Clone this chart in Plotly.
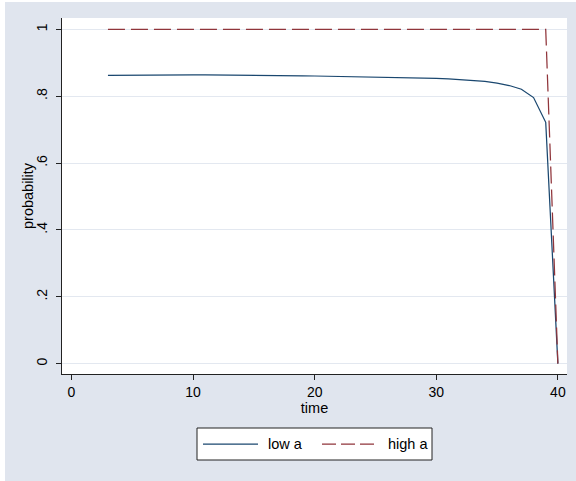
import plotly.graph_objects as go

# survival probability by time for two values of a
time = list(range(3, 41))
low_a = [0.862, 0.8625, 0.863, 0.8633, 0.8635, 0.8636, 0.8637, 0.8637, 0.8636, 0.8635,
         0.8633, 0.863, 0.8627, 0.8623, 0.8618, 0.8613, 0.8607, 0.8605, 0.860, 0.8595,
         0.859, 0.8585, 0.858, 0.8573, 0.8566, 0.8557, 0.8547, 0.8535, 0.852, 0.8502,
         0.848, 0.8445, 0.839, 0.832, 0.821, 0.796, 0.722, 0.0]
high_a = [1.0] * 37 + [0.0]

series_names = ["low a", "high a"]
series_colors = ["#1A476F", "#90353B"]

x_ticks = [0, 10, 20, 30, 40]
y_ticks = [0, 0.2, 0.4, 0.6, 0.8, 1.0]
y_tick_text = ["0", ".2", ".4", ".6", ".8", "1"]

BG = "#E0E5EE"
GRID = "#E3E8F0"
FONT = "Liberation Sans, Arial, sans-serif"
LW = 1.25

fig = go.Figure()
fig.add_trace(go.Scatter(x=time, y=low_a, mode="lines", name=series_names[0],
                         line=dict(color=series_colors[0], width=LW), showlegend=False))
fig.add_trace(go.Scatter(x=time, y=high_a, mode="lines", name=series_names[1],
                         line=dict(color=series_colors[1], width=LW, dash="17px,6px"),
                         showlegend=False))

# plot area geometry in pixels
W, H = 576, 481
L, R, T, B = 62, 9, 18, 107
pw, ph = W - L - R, H - T - B


def px_x(p):
    return (p - L) / pw


def px_y(p):
    return (H - B - p) / ph


shapes = [
    # white frame strips around the graph region
    dict(type="rect", xref="paper", yref="paper", x0=px_x(0), x1=px_x(5),
         y0=px_y(H), y1=px_y(0), fillcolor="white", line=dict(width=0), layer="below"),
    dict(type="rect", xref="paper", yref="paper", x0=px_x(0), x1=px_x(W),
         y0=px_y(2), y1=px_y(0), fillcolor="white", line=dict(width=0), layer="below"),
    # legend box
    dict(type="rect", xref="paper", yref="paper", x0=px_x(197), x1=px_x(432),
         y0=px_y(460), y1=px_y(428), fillcolor="white",
         line=dict(color="#222222", width=1)),
    dict(type="line", xref="paper", yref="paper", x0=px_x(203), x1=px_x(258),
         y0=px_y(444), y1=px_y(444), line=dict(color=series_colors[0], width=LW)),
    dict(type="line", xref="paper", yref="paper", x0=px_x(322), x1=px_x(377),
         y0=px_y(444), y1=px_y(444),
         line=dict(color=series_colors[1], width=LW, dash="14px,5px")),
]

annotations = [
    dict(text=series_names[0], xref="paper", yref="paper", x=px_x(266), y=px_y(444),
         xanchor="left", yanchor="middle", showarrow=False,
         font=dict(family=FONT, size=14.5, color="black")),
    dict(text=series_names[1], xref="paper", yref="paper", x=px_x(386), y=px_y(444),
         xanchor="left", yanchor="middle", showarrow=False,
         font=dict(family=FONT, size=14.5, color="black")),
    # y-axis title
    dict(text="probability", xref="paper", yref="paper", x=px_x(28), y=0.5,
         xanchor="center", yanchor="middle", textangle=-90, showarrow=False,
         font=dict(family=FONT, size=14.5, color="black")),
]

fig.update_layout(
    width=W, height=H,
    margin=dict(l=L, r=R, t=T, b=B, pad=0),
    paper_bgcolor=BG, plot_bgcolor="white",
    font=dict(family=FONT, size=14, color="black"),
    shapes=shapes, annotations=annotations,
    showlegend=False,
)
fig.update_xaxes(
    range=[-0.78, 40.75], tickvals=x_ticks, showgrid=False, zeroline=False,
    showline=True, linecolor="#222222", linewidth=1.3,
    ticks="outside", ticklen=5, tickcolor="#222222", tickwidth=1,
    tickfont=dict(size=14),
    title=dict(text="time", font=dict(size=14.5), standoff=2),
)
fig.update_yaxes(
    range=[-0.031, 1.034], tickvals=y_ticks, ticktext=y_tick_text, tickangle=-90,
    showgrid=True, gridcolor=GRID, gridwidth=1.3, zeroline=False,
    showline=True, linecolor="#222222", linewidth=1.3,
    ticks="outside", ticklen=5, tickcolor="#222222", tickwidth=1,
    tickfont=dict(size=14), ticklabelstandoff=3,
)

fig.write_html("out.html")
